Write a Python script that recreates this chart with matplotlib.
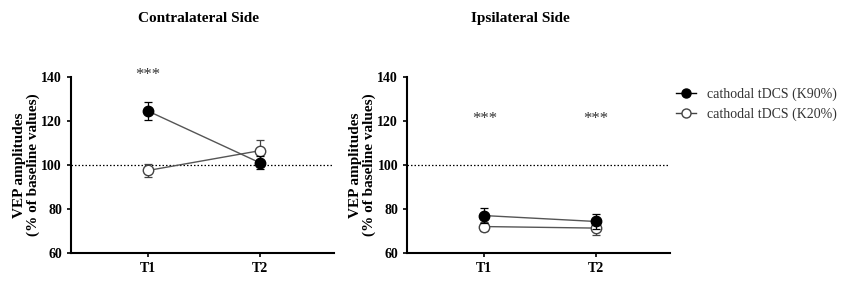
import matplotlib
matplotlib.use("Agg")
import matplotlib.pyplot as plt
from matplotlib.lines import Line2D

plt.rcParams['font.family'] = ['Liberation Serif', 'DejaVu Serif']

# Data (% of baseline)
times = ['T1', 'T2']
contra_k90 = [124.5, 101.0]
contra_k90_err = [4.0, 3.0]
contra_k20 = [97.5, 106.5]
contra_k20_err = [3.0, 5.0]
ipsi_k90 = [77.0, 74.3]
ipsi_k90_err = [3.5, 3.5]
ipsi_k20 = [72.0, 71.3]
ipsi_k20_err = [2.0, 3.0]

titles = ['Contralateral Side', 'Ipsilateral Side']
stars_contra = [(1, 141.0)]
stars_ipsi = [(1, 121.0), (2, 121.0)]

fig = plt.figure(figsize=(8.5, 2.82), dpi=100)
ax1 = fig.add_axes([0.0835, 0.103, 0.309, 0.624])
ax2 = fig.add_axes([0.479, 0.103, 0.309, 0.624])

x = [1, 2]
panels = [
    (ax1, contra_k90, contra_k90_err, contra_k20, contra_k20_err, stars_contra),
    (ax2, ipsi_k90, ipsi_k90_err, ipsi_k20, ipsi_k20_err, stars_ipsi),
]

for ax, k90, k90e, k20, k20e, stars in panels:
    ax.axhline(100, color='black', linestyle=(0, (1.2, 1.6)), linewidth=0.9, zorder=1)
    ax.plot(x, k90, color='#555555', linewidth=1.0, zorder=2)
    ax.plot(x, k20, color='#555555', linewidth=1.0, zorder=2)
    ax.errorbar(x, k90, yerr=k90e, fmt='o', color='black', markerfacecolor='black',
                markeredgecolor='black', markersize=7.5, capsize=3, elinewidth=0.9,
                capthick=0.9, zorder=4)
    ax.errorbar(x, k20, yerr=k20e, fmt='o', color='#444444', markerfacecolor='white',
                markeredgecolor='#444444', markersize=7.5, capsize=3, elinewidth=0.9,
                capthick=0.9, zorder=3)
    for sx, sy in stars:
        ax.text(sx, sy, '***', ha='center', va='center', fontsize=12, color='#333333',
                clip_on=False)

    ax.set_xlim(0.31, 2.66)
    ax.set_ylim(60, 140)
    ax.set_yticks([60, 80, 100, 120, 140])
    ax.set_xticks(x)
    ax.set_xticklabels(times)
    for s in ['top', 'right']:
        ax.spines[s].set_visible(False)
    for s in ['left', 'bottom']:
        ax.spines[s].set_linewidth(1.5)
    ax.tick_params(axis='both', direction='out', length=3, width=1.2, labelsize=10)
    for lab in ax.get_xticklabels() + ax.get_yticklabels():
        lab.set_fontweight('bold')
    ax.set_ylabel('VEP amplitudes\n(% of baseline values)', fontsize=11,
                  fontweight='bold', labelpad=1, linespacing=1.05)

fig.text(0.233, 0.935, titles[0], ha='center', va='center', fontsize=11, fontweight='bold')
fig.text(0.612, 0.935, titles[1], ha='center', va='center', fontsize=11, fontweight='bold')

handles = [
    Line2D([0], [0], color='black', marker='o', markersize=6.5, markerfacecolor='black',
           linewidth=1),
    Line2D([0], [0], color='#444444', marker='o', markersize=6.5, markerfacecolor='white',
           linewidth=1),
]
fig.legend(handles, ['cathodal tDCS (K90%)', 'cathodal tDCS (K20%)'],
           loc='upper left', bbox_to_anchor=(0.78, 0.735), frameon=False,
           fontsize=10, handlelength=1.5, handletextpad=0.8, labelspacing=0.5,
           labelcolor='#333333')

fig.savefig('out.png', dpi=100)
